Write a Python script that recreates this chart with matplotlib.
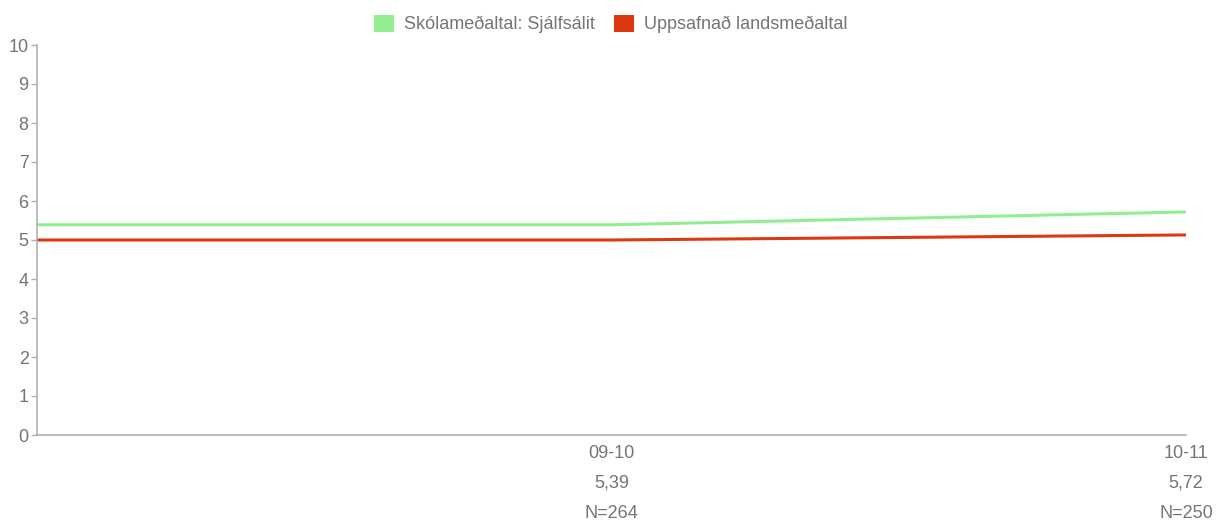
"""Skólameðaltal: Sjálfsálit borið saman við uppsafnað landsmeðaltal."""

import matplotlib

matplotlib.use("Agg")
import matplotlib.pyplot as plt
from matplotlib.patches import Patch

# Gogn lesin af myndinni
categories = ["", "09-10", "10-11"]
school_avg = [5.39, 5.39, 5.72]
national_avg = [5.0, 5.0, 5.13]
n_counts = ["", "264", "250"]

series_names = ["Skólameðaltal: Sjálfsálit", "Uppsafnað landsmeðaltal"]
colors = ["#90ee90", "#dc3912"]

TEXT = "#757575"
AXIS = "#b0b0b0"
FS = 13

plt.rcParams["font.family"] = ["Liberation Sans", "DejaVu Sans"]

fig = plt.figure(figsize=(12.2, 5.24), dpi=100)
ax = fig.add_axes([37 / 1220, 89 / 524, 1149 / 1220, 390 / 524])

x = list(range(len(categories)))
ax.plot(x, school_avg, color=colors[0], lw=2.2, solid_capstyle="butt")
ax.plot(x, national_avg, color=colors[1], lw=2.2, solid_capstyle="butt")

ax.set_xlim(0, len(categories) - 1)
ax.set_ylim(0, 10)
ax.set_yticks(range(0, 11))

labels = []
for cat, val, n in zip(categories, school_avg, n_counts):
    if cat:
        labels.append(f"{cat}\n{val:.2f}".replace(".", ",") + f"\nN={n}")
    else:
        labels.append("")
ax.set_xticks(x)
ax.set_xticklabels(labels)
for lab in ax.get_xticklabels():
    lab.set_linespacing(2.0)

ax.tick_params(axis="x", length=0, pad=7, labelsize=FS, labelcolor=TEXT)
ax.tick_params(axis="y", length=4, width=1, color=AXIS, pad=2,
               labelsize=FS, labelcolor=TEXT)

for side in ["top", "right"]:
    ax.spines[side].set_visible(False)
for side in ["left", "bottom"]:
    ax.spines[side].set_color(AXIS)
    ax.spines[side].set_linewidth(1.2)

handles = [Patch(facecolor=c, edgecolor="none") for c in colors]
fig.legend(handles, series_names, loc="center", bbox_to_anchor=(611 / 1220, 1 - 24 / 524),
           ncol=2, frameon=False, fontsize=FS, labelcolor=TEXT,
           handlelength=1.12, handleheight=1.12, handletextpad=0.55, columnspacing=1.05)

fig.savefig("out.png", dpi=100)
plt.close(fig)
